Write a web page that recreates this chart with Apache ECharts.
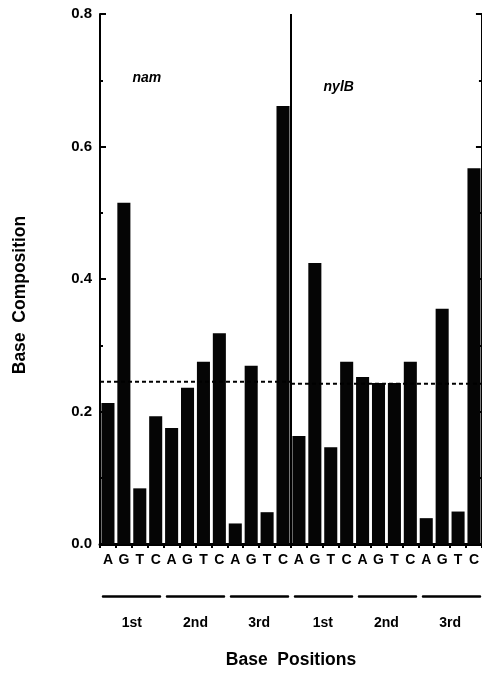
<!DOCTYPE html>
<html>
<head>
<meta charset="utf-8">
<script src="https://cdn.jsdelivr.net/npm/echarts@6/dist/echarts.min.js"></script>
<style>
  html, body { margin: 0; padding: 0; background: #fff; }
  #chart { width: 482px; height: 674px; }
</style>
</head>
<body>
<div id="chart"></div>
<script>
// bases along x, 3 codon positions x 2 genes
var bases = ['A','G','T','C','A','G','T','C','A','G','T','C',
             'A','G','T','C','A','G','T','C','A','G','T','C'];
var namValues  = [0.213, 0.515, 0.084, 0.193, 0.175, 0.236, 0.275, 0.318, 0.031, 0.269, 0.048, 0.661];
var nylBValues = [0.163, 0.424, 0.146, 0.275, 0.252, 0.243, 0.243, 0.275, 0.039, 0.355, 0.049, 0.567];
var composition = namValues.concat(nylBValues);
var groupLabels = ['1st','2nd','3rd','1st','2nd','3rd'];
var yTicks = [0, 0.8, 0.2];          // min, max, step
var namMean = 0.245;
var nylBMean = 0.242;
var geneNames = ['nam', 'nylB'];
var genePos = [[2.94, 0.703], [15.0, 0.69]];   // label centres in category units

var font = 'Liberation Sans';
var dom = document.getElementById('chart');
var myChart = echarts.init(dom);

var option = {
  backgroundColor: '#fff',
  animation: false,
  textStyle: { fontFamily: font, color: '#000' },
  grid: { left: 100, right: -2, top: 14, bottom: 124 },
  xAxis: [
    {   // bottom bases
      type: 'category',
      position: 'bottom',
      data: bases,
      axisLine: { lineStyle: { color: '#000', width: 3 } },
      axisTick: { show: false },
      axisLabel: { color: '#000', fontFamily: font, fontWeight: 'bold', fontSize: 14, margin: 9, interval: 0 }
    },
    {   // top frame with small ticks
      type: 'category',
      position: 'top',
      data: bases,
      axisLine: { lineStyle: { color: '#000', width: 2 } },
      axisTick: { show: true, inside: true, length: 4, lineStyle: { color: '#000', width: 2 } },
      axisLabel: { show: false }
    },
    {   // helper axis for lines / dividers
      type: 'value',
      min: 0,
      max: bases.length,
      show: false
    },
    {   // codon position groups
      type: 'category',
      position: 'bottom',
      offset: 52,
      data: groupLabels,
      axisLine: { lineStyle: { color: '#000', width: 2.5, type: [57, 7], dashOffset: 61 } },
      axisTick: { show: false },
      axisLabel: { color: '#000', fontFamily: font, fontWeight: 'bold', fontSize: 14, margin: 20, interval: 0 },
      name: 'Base  Positions',
      nameLocation: 'middle',
      nameGap: 55,
      nameTextStyle: { color: '#000', fontFamily: font, fontWeight: 'bold', fontSize: 17.5 }
    }
  ],
  yAxis: [
    {
      type: 'value',
      position: 'left',
      min: yTicks[0],
      max: yTicks[1],
      interval: yTicks[2],
      name: 'Base  Composition',
      nameLocation: 'middle',
      nameGap: 71,
      nameTextStyle: { color: '#000', fontFamily: font, fontWeight: 'bold', fontSize: 17.5, padding: [0, 32, 0, 0] },
      axisLine: { show: true, lineStyle: { color: '#000', width: 2 } },
      axisTick: { show: true, inside: true, length: 6, lineStyle: { color: '#000', width: 2 } },
      minorTick: { show: true, splitNumber: 2, length: 3, lineStyle: { color: '#000', width: 2 } },
      splitLine: { show: false },
      axisLabel: {
        color: '#000', fontFamily: font, fontWeight: 'bold', fontSize: 15, margin: 8,
        formatter: function (v) { return v.toFixed(1); }
      }
    },
    {
      type: 'value',
      position: 'right',
      min: yTicks[0],
      max: yTicks[1],
      interval: yTicks[2],
      axisLine: { show: true, lineStyle: { color: '#000', width: 2 } },
      axisTick: { show: true, inside: true, length: 6, lineStyle: { color: '#000', width: 2 } },
      minorTick: { show: true, splitNumber: 2, length: 3, lineStyle: { color: '#000', width: 2 } },
      splitLine: { show: false },
      axisLabel: { show: false }
    }
  ],
  series: [
    {
      name: 'composition',
      type: 'bar',
      xAxisIndex: 0,
      yAxisIndex: 0,
      barCategoryGap: '18%',
      itemStyle: { color: '#050505' },
      data: composition,
      z: 2
    },
    {
      name: 'nam mean',
      type: 'line',
      xAxisIndex: 2,
      yAxisIndex: 0,
      symbol: 'none',
      lineStyle: { color: '#000', width: 2, type: [4, 3] },
      data: [[0, namMean], [bases.length / 2, namMean]],
      z: 3,
      markLine: {
        silent: true,
        symbol: 'none',
        label: { show: false },
        lineStyle: { color: '#000', width: 2, type: 'solid' },
        data: [{ xAxis: bases.length / 2 }]
      },
      markPoint: {
        symbol: 'circle',
        symbolSize: 0,
        label: {
          show: true, position: 'inside', formatter: '{b}',
          color: '#000', fontFamily: font, fontStyle: 'italic', fontWeight: 'bold', fontSize: 14
        },
        data: geneNames.map(function (g, i) { return { name: g, coord: genePos[i] }; })
      }
    },
    {
      name: 'nylB mean',
      type: 'line',
      xAxisIndex: 2,
      yAxisIndex: 0,
      symbol: 'none',
      lineStyle: { color: '#000', width: 2, type: [4, 3] },
      data: [[bases.length / 2, nylBMean], [bases.length, nylBMean]],
      z: 3
    }
  ]
};

if (option && typeof option === "object") {
  myChart.setOption(option, true);
}
</script>
</body>
</html>
